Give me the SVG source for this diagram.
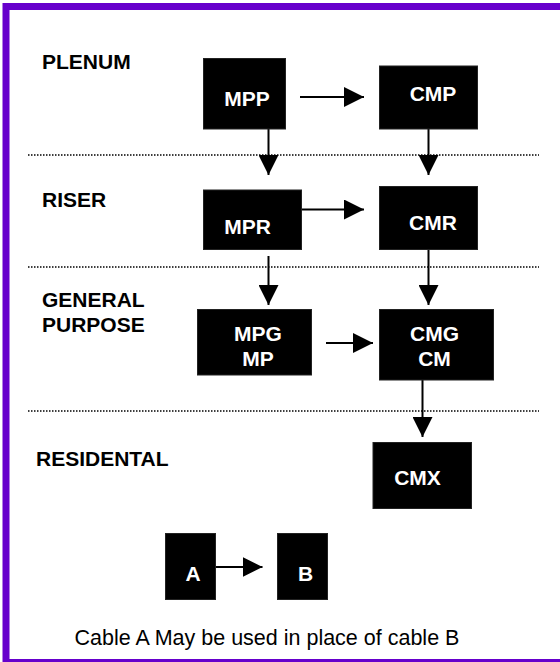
<svg xmlns="http://www.w3.org/2000/svg" width="560" height="662" viewBox="0 0 560 662">
  <style>
    .lbl { font-family: "Liberation Sans", Arial, sans-serif; font-weight: bold; font-size: 21px; fill: #000; }
    .box { fill: #000; stroke: #222; stroke-width: 1; }
    .bt { font-family: "Liberation Sans", Arial, sans-serif; font-weight: bold; font-size: 21px; fill: #fff; text-anchor: middle; }
    .sep { stroke: #000; stroke-width: 1.5; stroke-dasharray: 1.5 1.5; fill: none; }
    .con { stroke: #000; stroke-width: 2; fill: none; marker-end: url(#ah); }
    .cap { font-family: "Liberation Sans", Arial, sans-serif; font-size: 21.5px; fill: #000; text-anchor: middle; }
  </style>
  <defs>
    <marker id="ah" markerUnits="userSpaceOnUse" markerWidth="20" markerHeight="20" refX="20" refY="10" orient="auto">
      <path d="M0,0 L20,10 L0,20 Z" fill="#000"/>
    </marker>
  </defs>
  <rect x="0" y="0" width="560" height="662" fill="#fff"/>
  <rect id="frame" x="6" y="6.5" width="600" height="656" fill="none" stroke="#6600CC" stroke-width="7"/>

  <g id="separators">
    <line class="sep" x1="28" y1="155" x2="539" y2="155"/>
    <line class="sep" x1="28" y1="267" x2="539" y2="267"/>
    <line class="sep" x1="28" y1="411" x2="539" y2="411"/>
  </g>

  <g id="labels">
    <text class="lbl" x="42" y="69">PLENUM</text>
    <text class="lbl" x="42" y="207">RISER</text>
    <text class="lbl" x="42" y="307">GENERAL</text>
    <text class="lbl" x="42" y="332">PURPOSE</text>
    <text class="lbl" x="36" y="466">RESIDENTAL</text>
  </g>

  <g id="connectors">
    <line class="con" x1="300" y1="97" x2="364" y2="97"/>
    <line class="con" x1="302" y1="209.5" x2="364" y2="209.5"/>
    <line class="con" x1="326" y1="343" x2="373" y2="343"/>
    <line class="con" x1="216" y1="567" x2="262.5" y2="567"/>
    <line class="con" x1="268.5" y1="129" x2="268.5" y2="175"/>
    <line class="con" x1="428.5" y1="129" x2="428.5" y2="175"/>
    <line class="con" x1="268.5" y1="256" x2="268.5" y2="305"/>
    <line class="con" x1="428.5" y1="249" x2="428.5" y2="305"/>
    <line class="con" x1="422.5" y1="380" x2="422.5" y2="437"/>
  </g>

  <g id="MPP">
    <rect class="box" x="203.5" y="58.5" width="82" height="70.5"/>
    <text class="bt" x="247" y="106">MPP</text>
  </g>
  <g id="CMP">
    <rect class="box" x="379.5" y="66" width="98" height="63"/>
    <text class="bt" x="433" y="101">CMP</text>
  </g>
  <g id="MPR">
    <rect class="box" x="203.5" y="190" width="98" height="59.5"/>
    <text class="bt" x="247.5" y="233.5">MPR</text>
  </g>
  <g id="CMR">
    <rect class="box" x="379.5" y="186.5" width="98" height="63"/>
    <text class="bt" x="433" y="229.5">CMR</text>
  </g>
  <g id="MPG">
    <rect class="box" x="197.5" y="309.5" width="114" height="65.5"/>
    <text class="bt" x="258" y="341">MPG</text>
    <text class="bt" x="258" y="366">MP</text>
  </g>
  <g id="CMG">
    <rect class="box" x="379.5" y="309.5" width="114" height="70.5"/>
    <text class="bt" x="434.5" y="341">CMG</text>
    <text class="bt" x="434.5" y="366">CM</text>
  </g>
  <g id="CMX">
    <rect class="box" x="373" y="442.5" width="98.5" height="66"/>
    <text class="bt" x="417.5" y="485">CMX</text>
  </g>
  <g id="A">
    <rect class="box" x="165.5" y="533.5" width="50" height="66"/>
    <text class="bt" x="193" y="581">A</text>
  </g>
  <g id="B">
    <rect class="box" x="277.5" y="533.5" width="50" height="66"/>
    <text class="bt" x="305.5" y="581">B</text>
  </g>

  <text class="cap" x="267" y="645">Cable A May be used in place of cable B</text>
</svg>
